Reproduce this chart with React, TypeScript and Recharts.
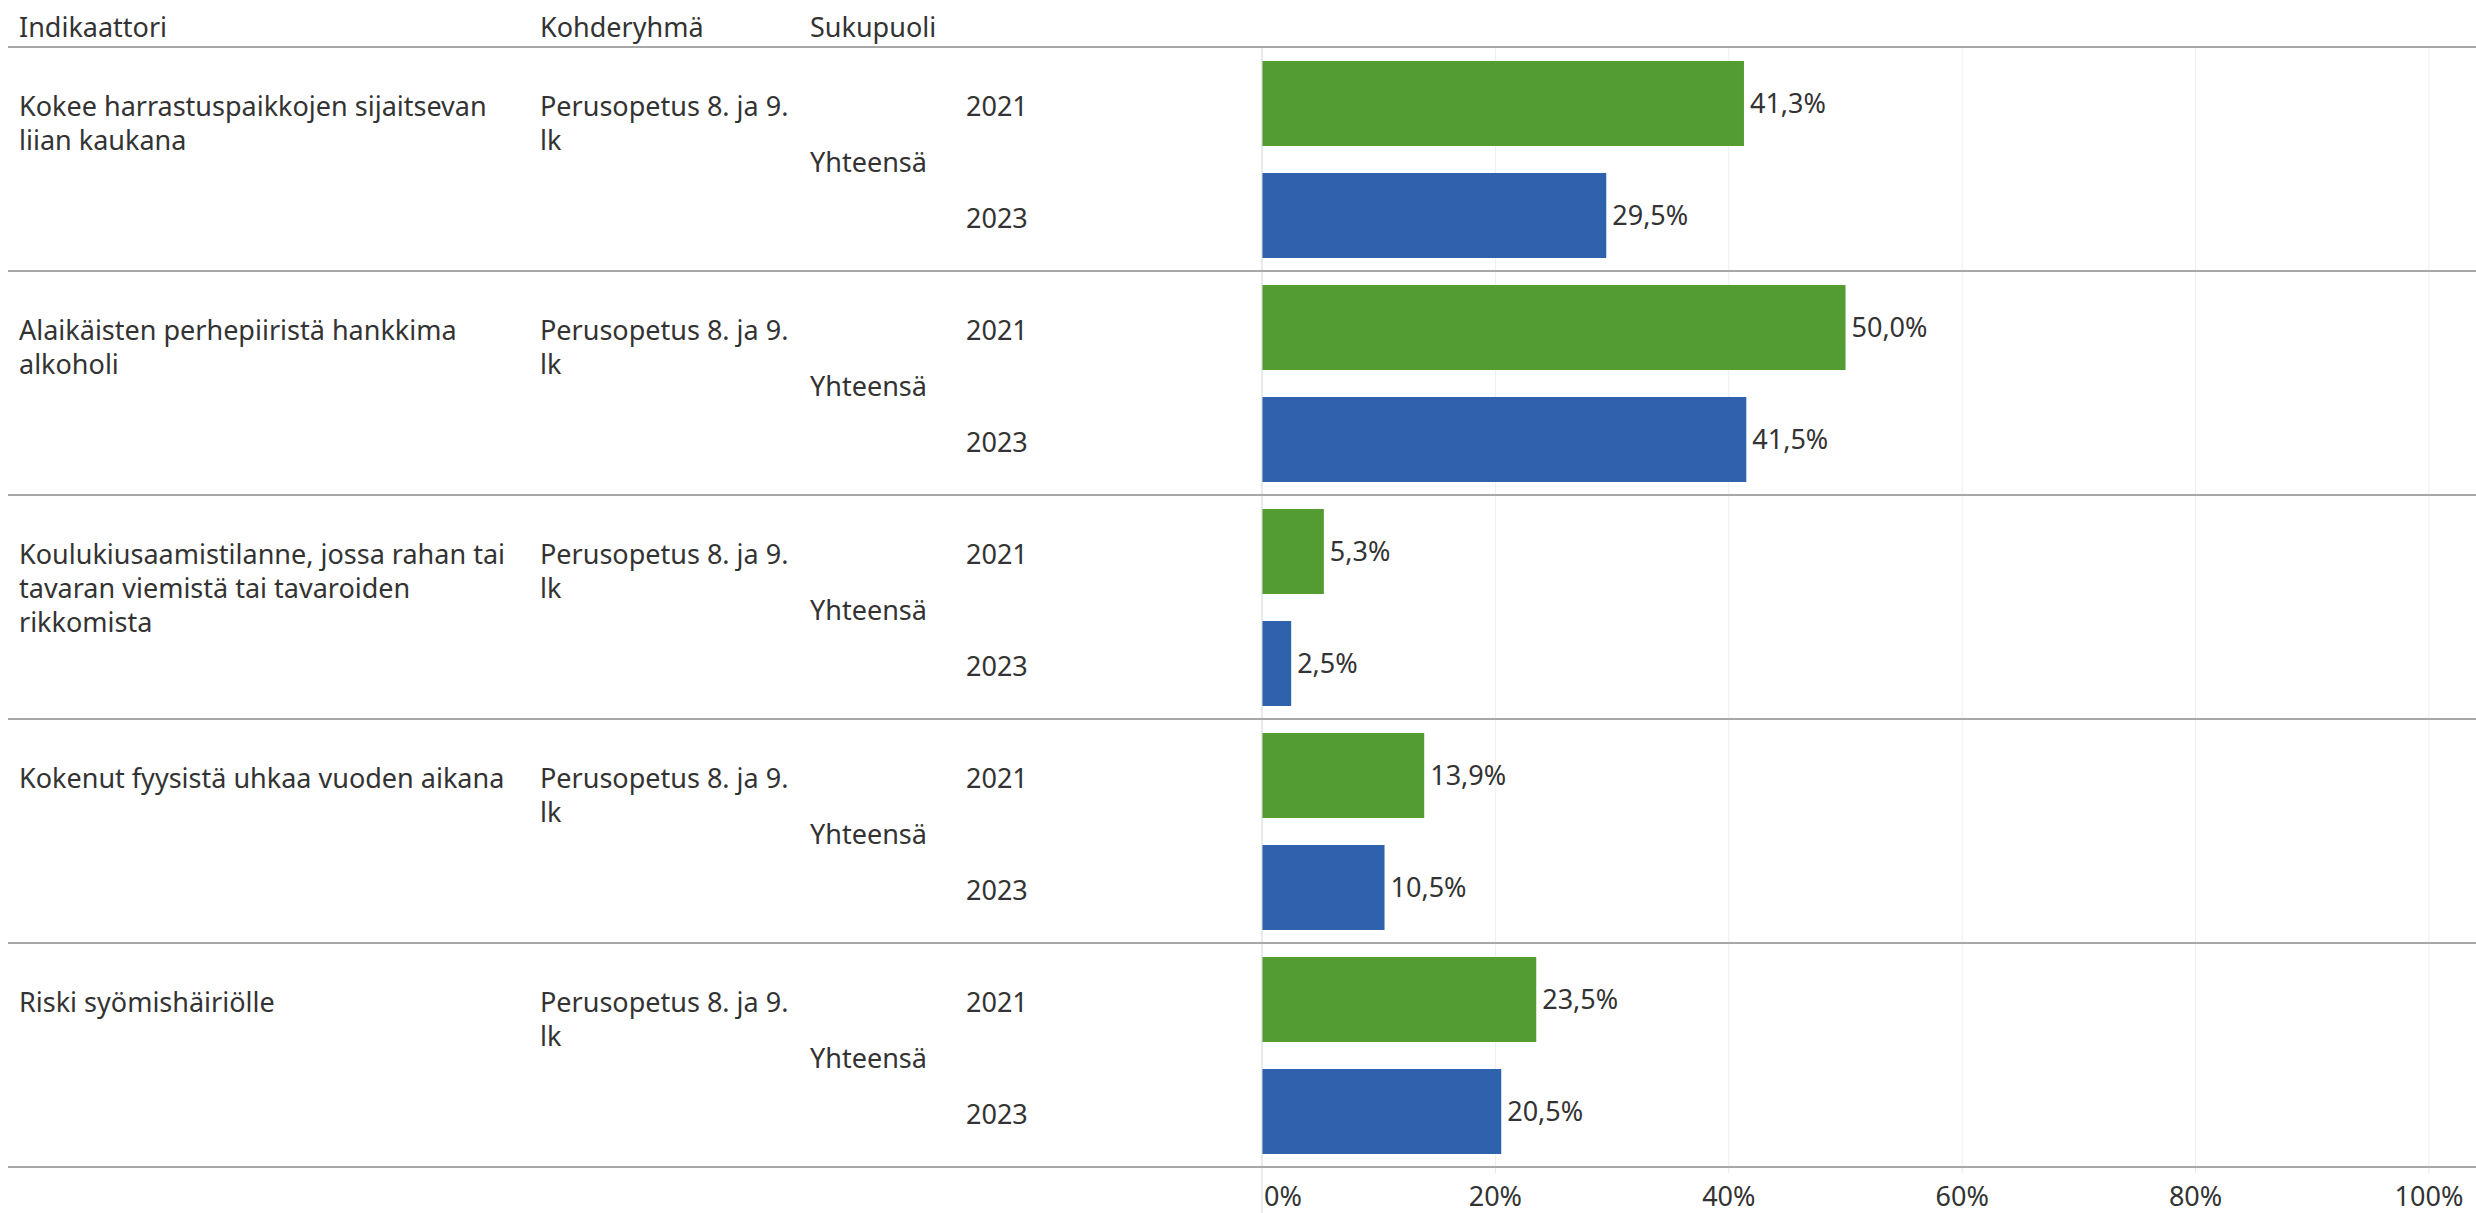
import React from "react";
import { BarChart, Bar, XAxis, YAxis, CartesianGrid, LabelList, Cell } from "recharts";

const headers = ["Indikaattori", "Kohderyhmä", "Sukupuoli"];
const indicatorLines = [
  ["Kokee harrastuspaikkojen sijaitsevan", "liian kaukana"],
  ["Alaikäisten perhepiiristä hankkima", "alkoholi"],
  ["Koulukiusaamistilanne, jossa rahan tai", "tavaran viemistä tai tavaroiden", "rikkomista"],
  ["Kokenut fyysistä uhkaa vuoden aikana"],
  ["Riski syömishäiriölle"],
];
const targetGroupLines = ["Perusopetus 8. ja 9.", "lk"];
const genderLabel = "Yhteensä";
const years = ["2021", "2023"];
const values2021 = [41.3, 50.0, 5.3, 13.9, 23.5];
const values2023 = [29.5, 41.5, 2.5, 10.5, 20.5];
const xTicks = [0, 20, 40, 60, 80, 100];

const yearColors = ["#539C32", "#2F62AC"];

const W = 2476;
const H = 1213;
const TOP = 47;
const AXIS_H = 46;
const LEFT_W = 1262;
const RIGHT = 47;
const FONT = "'Noto Sans', sans-serif";
const FS = 27;
const TEXT = "#333333";
const SEP = "#A8A8A8";

// column x positions of the table part
const COL_IND = 19;
const COL_TARGET = 540;
const COL_GENDER = 810;
const COL_YEAR = 966;
const LINE_H = 34;

const data = indicatorLines.flatMap((_, i) => [
  { key: `${i}-2021`, group: i, year: 0, value: values2021[i] },
  { key: `${i}-2023`, group: i, year: 1, value: values2023[i] },
]);

const band = (H - TOP - AXIS_H) / data.length;

const fmt = (v: number) => v.toFixed(1).replace(".", ",") + "%";

function RowTick(props: any) {
  const { y, index } = props;
  const d = data[index];
  if (!d) return null;
  const out: React.ReactNode[] = [];
  out.push(
    <text key="yr" x={COL_YEAR} y={y + 2} dominantBaseline="central" fontSize={FS} fontFamily={FONT} fill={TEXT}>
      {years[d.year]}
    </text>
  );
  if (d.year === 0) {
    const top = y - band / 2;
    out.push(<line key="sep" x1={8} x2={W} y1={top} y2={top} stroke={SEP} strokeWidth={2} />);
    indicatorLines[d.group].forEach((ln, j) => {
      out.push(
        <text key={"ind" + j} x={COL_IND} y={y + 2 + j * LINE_H} dominantBaseline="central" fontSize={FS} fontFamily={FONT} fill={TEXT}>
          {ln}
        </text>
      );
    });
    targetGroupLines.forEach((ln, j) => {
      out.push(
        <text key={"tg" + j} x={COL_TARGET} y={y + 2 + j * LINE_H} dominantBaseline="central" fontSize={FS} fontFamily={FONT} fill={TEXT}>
          {ln}
        </text>
      );
    });
    out.push(
      <text key="gen" x={COL_GENDER} y={y + band / 2 + 2} dominantBaseline="central" fontSize={FS} fontFamily={FONT} fill={TEXT}>
        {genderLabel}
      </text>
    );
  }
  if (index === data.length - 1) {
    const bot = y + band / 2;
    out.push(<line key="bot" x1={8} x2={W} y1={bot} y2={bot} stroke={SEP} strokeWidth={2} />);
  }
  return <g>{out}</g>;
}

function XTick(props: any) {
  const { x, y, payload } = props;
  const v = payload.value;
  return (
    <g>
      {v === 0 ? (
        <line x1={x} x2={x} y1={y} y2={H} stroke="#D9D9D9" strokeWidth={1} />
      ) : (
        <line x1={x} x2={x} y1={y} y2={y + 6} stroke="#E6E6E6" strokeWidth={1} />
      )}
      <text
        x={v === 0 ? x + 2 : x}
        y={y + 28}
        textAnchor={v === 0 ? "start" : "middle"}
        dominantBaseline="central"
        fontSize={FS}
        fontFamily={FONT}
        fill={TEXT}
      >
        {v + "%"}
      </text>
    </g>
  );
}

export default function App() {
  return (
    <div style={{ position: "absolute", left: 0, top: 0, width: W, height: H, background: "#fff", fontFamily: FONT }}>
      {headers.map((h, i) => (
        <div
          key={h}
          style={{
            position: "absolute",
            left: [COL_IND, COL_TARGET, COL_GENDER][i],
            top: 10,
            fontSize: FS,
            color: TEXT,
            lineHeight: "34px",
          }}
        >
          {h}
        </div>
      ))}
      <BarChart
        width={W}
        height={H}
        data={data}
        layout="vertical"
        margin={{ top: TOP, right: RIGHT, bottom: 0, left: 0 }}
        barSize={85}
      >
        <CartesianGrid horizontal={false} vertical stroke="#EEEEEE" strokeWidth={1} />
        <XAxis
          type="number"
          dataKey="value"
          domain={[0, 100]}
          ticks={xTicks}
          height={AXIS_H}
          axisLine={false}
          tickLine={false}
          tickSize={0}
          tickMargin={0}
          tick={<XTick />}
          interval={0}
        />
        <YAxis
          type="category"
          dataKey="key"
          width={LEFT_W}
          axisLine={{ stroke: "#D9D9D9", strokeWidth: 1 }}
          tickLine={false}
          tickSize={0}
          tickMargin={0}
          tick={<RowTick />}
          interval={0}
        />
        <Bar dataKey="value" isAnimationActive={false}>
          {data.map((d) => (
            <Cell key={d.key} fill={yearColors[d.year]} />
          ))}
          <LabelList
            dataKey="value"
            position="right"
            offset={6}
            formatter={(v: any) => fmt(Number(v))}
            style={{ fontSize: FS, fontFamily: FONT, fill: TEXT }}
          />
        </Bar>
      </BarChart>
    </div>
  );
}
